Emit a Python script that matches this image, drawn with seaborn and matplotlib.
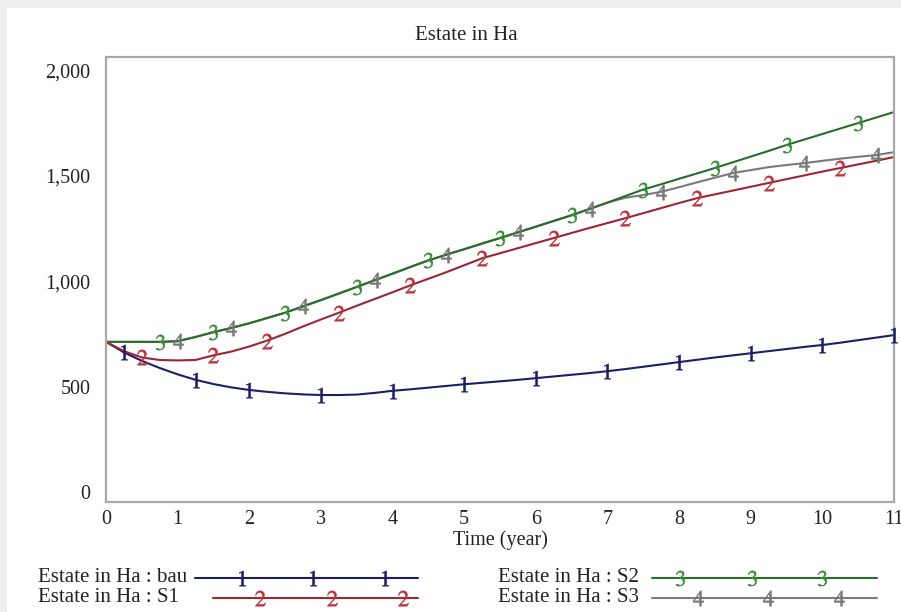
import numpy as np
import pandas as pd
import matplotlib
matplotlib.use("Agg")
import matplotlib.pyplot as plt
from matplotlib.lines import Line2D
from matplotlib.patches import Rectangle
import seaborn as sns

# Simulation time axis (years, quarter-year steps)
time = np.arange(0, 11.01, 0.25)

# Estate area (Ha) for each scenario
bau = [712, 662, 622, 588, 558, 532, 512, 496, 484, 475, 468, 463, 460, 460, 462, 470,
       480, 487, 495, 503, 511, 518, 525, 532, 540, 548, 556, 564, 573, 583, 594, 605,
       616, 627, 638, 648, 658, 668, 678, 688, 697, 708, 720, 732, 744]
s1 = [712, 668, 638, 626, 624, 626, 648, 666, 690, 718, 750, 785, 818, 850, 883, 915,
      947, 980, 1011, 1042, 1075, 1108, 1132, 1156, 1180, 1204, 1228, 1252, 1275, 1298, 1322, 1346,
      1370, 1393, 1411, 1429, 1447, 1465, 1483, 1501, 1519, 1536, 1553, 1570, 1588]
s2 = [712, 712, 712, 712, 715, 735, 758, 778, 800, 825, 850, 880, 910, 941, 972, 1004,
      1035, 1067, 1098, 1125, 1151, 1178, 1204, 1231, 1258, 1285, 1312, 1342, 1372, 1403, 1434, 1459,
      1485, 1510, 1536, 1563, 1590, 1617, 1645, 1671, 1697, 1723, 1749, 1775, 1801]
s3 = [712, 712, 712, 712, 715, 735, 758, 778, 800, 825, 850, 880, 910, 941, 972, 1004,
      1035, 1067, 1098, 1125, 1151, 1178, 1204, 1231, 1258, 1285, 1312, 1342, 1372, 1395, 1408, 1423,
      1445, 1468, 1490, 1512, 1526, 1540, 1550, 1559, 1570, 1580, 1589, 1597, 1611]

series_names = ["bau", "S1", "S2", "S3"]
series_values = [bau, s1, s2, s3]
series_tags = ["1", "2", "3", "4"]

# Indices on the time grid where each run's number tag is stamped
tag_index = {
    "bau": [1, 5, 8, 12, 16, 20, 24, 28, 32, 36, 40, 44],
    "S1": [2, 6, 9, 13, 17, 21, 25, 29, 33, 37, 41],
    "S2": [3, 6, 10, 14, 18, 22, 26, 30, 34, 38, 42],
    "S3": [4, 7, 11, 15, 19, 23, 27, 31, 35, 39, 43],
}

y_ticks = [0, 500, 1000, 1500, 2000]
y_tick_labels = ["0", "500", "1,000", "1,500", "2,000"]
x_ticks = list(range(0, 12))

line_colors = {"bau": "#1e1e66", "S1": "#9a2636", "S2": "#286e28", "S3": "#7a7a7a"}
tag_colors = {"bau": "#1e1e66", "S1": "#c0303c", "S2": "#3a8a3a", "S3": "#777777"}

df = pd.DataFrame({
    "time": np.tile(time, len(series_names)),
    "value": np.concatenate([np.asarray(v, float) for v in series_values]),
    "run": np.repeat(series_names, len(time)),
})

sns.set_theme(style="white")
plt.rcParams["font.family"] = ["Liberation Serif", "DejaVu Serif"]
plt.rcParams["mathtext.fontset"] = "stix"

W, H = 901, 612
fig = plt.figure(figsize=(W / 100, H / 100), dpi=100)
fig.patch.set_facecolor("#efefef")
fig.add_artist(Rectangle((7 / W, 0), 1, 1 - 8 / H, transform=fig.transFigure,
                         facecolor="white", edgecolor="none", zorder=0))

ax = fig.add_axes([106 / W, 1 - 502 / H, (894 - 106) / W, (502 - 57) / H])

draw_order = ["bau", "S1", "S3", "S2"]
for name in draw_order:
    sub = df[df["run"] == name]
    sns.lineplot(data=sub, x="time", y="value", ax=ax, color=line_colors[name],
                 linewidth=1.5, legend=False, zorder=2)

MS = 11
for name, tag in zip(series_names, series_tags):
    sub = df[df["run"] == name].reset_index(drop=True)
    idx = tag_index[name]
    ax.plot(sub["time"].iloc[idx], sub["value"].iloc[idx], linestyle="none",
            marker=f"${tag}$", markersize=MS, color=tag_colors[name],
            markeredgewidth=0.4, zorder=3, clip_on=False)

ax.set_xlim(0, 11)
ax.set_ylim(-47, 2062)
ax.set_xticks(x_ticks)
ax.set_xticklabels([str(t) for t in x_ticks])
ax.set_yticks(y_ticks)
ax.set_yticklabels(y_tick_labels)
ax.tick_params(axis="both", length=0, labelsize=14.5, colors="#222222")
ax.tick_params(axis="y", pad=11)
ax.tick_params(axis="x", pad=6)
ax.set_xlabel("Time (year)", fontsize=14.5, color="#222222", labelpad=1)
ax.set_ylabel("")
for side in ["left", "right", "top", "bottom"]:
    ax.spines[side].set_visible(True)
    ax.spines[side].set_color("#a8a8a8")
    ax.spines[side].set_linewidth(1.6)
ax.set_facecolor("white")

fig.text(466 / W, 1 - 35 / H, "Estate in Ha", ha="center", va="center",
         fontsize=15, color="#222222")

# Key below the plot: label, line, and three number tags per run
legend_rows = [
    ("bau", 38, 578, 195, 418, [242, 313, 385]),
    ("S1", 38, 598, 213, 418, [260, 332, 403]),
    ("S2", 498, 578, 652, 877, [680, 752, 822]),
    ("S3", 498, 598, 652, 877, [698, 768, 839]),
]
for name, tx, ty, lx0, lx1, mx in legend_rows:
    tag = series_tags[series_names.index(name)]
    fig.text(tx / W, 1 - ty / H, f"Estate in Ha : {name}", ha="left", va="center",
             fontsize=15, color="#222222")
    fig.add_artist(Line2D([lx0 / W, lx1 / W], [1 - ty / H, 1 - ty / H],
                          transform=fig.transFigure, color=line_colors[name], linewidth=1.5))
    fig.add_artist(Line2D([m / W for m in mx], [1 - ty / H] * len(mx),
                          transform=fig.transFigure, linestyle="none",
                          marker=f"${tag}$", markersize=MS, color=tag_colors[name],
                          markeredgewidth=0.4))

fig.savefig("out.png", dpi=100, facecolor=fig.get_facecolor())
